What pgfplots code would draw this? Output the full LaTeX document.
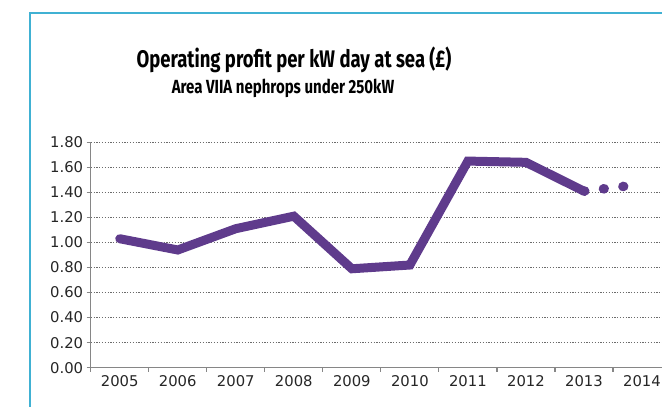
\documentclass[border=0pt]{standalone}
\usepackage{pgfplots}
\pgfplotsset{compat=1.18}
\usepackage{graphicx}
\usepackage{fontspec}
\setmainfont{DejaVu Sans}
\newfontfamily\titlefont{Fira Sans}
\definecolor{frameblue}{RGB}{64,177,211}
\definecolor{linepurple}{RGB}{95,59,140}
\definecolor{axisgray}{RGB}{134,134,134}
\begin{document}
\begin{tikzpicture}
\begin{axis}[
  at={(90.7pt,39.3pt)}, anchor=south west,
  scale only axis, width=580.3pt, height=225.4pt,
  xmin=-0.5, xmax=9.5, ymin=0, ymax=1.8,
  axis x line*=bottom, axis y line*=left,
  axis line style={-, axisgray, line width=1.2pt},
  xtick={-0.5,0.5,1.5,2.5,3.5,4.5,5.5,6.5,7.5,8.5,9.5},
  x tick label as interval,
  xticklabels={2005,2006,2007,2008,2009,2010,2011,2012,2013,2014},
  ytick={0,0.2,0.4,0.6,0.8,1,1.2,1.4,1.6,1.8},
  yticklabel style={/pgf/number format/fixed, /pgf/number format/fixed zerofill, /pgf/number format/precision=2},
  /pgf/number format/assume math mode=true,
  tick align=outside, major tick length=4pt,
  tick style={axisgray, line width=1.2pt},
  ymajorgrids,
  major grid style={axisgray!80!black, line width=1.2pt, dash pattern=on 1.2pt off 1.6pt},
  ticklabel style={font=\fontsize{14.8}{16}\selectfont, text=black!85},
  clip=false,
]
\addplot[linepurple, line width=9pt, line cap=round, line join=miter] coordinates {
(0,1.03) (1,0.94) (2,1.11) (3,1.21) (4,0.79) (5,0.82) (6,1.65) (7,1.64) (8,1.41)};
\addplot[linepurple, line width=9.5pt, line cap=round, dash pattern=on 0.8pt off 18.8pt] coordinates {
(8,1.41) (9,1.465)};
\end{axis}
\draw[frameblue, line width=2pt] (30pt,0pt) -- (30pt,394pt) -- (670pt,394pt);
\node[anchor=base, inner sep=0pt] at (294pt,339.3pt) {\titlefont\bfseries\fontsize{24}{28}\selectfont\scalebox{0.77}[1]{Operating profit per kW day at sea (£)}};
\node[anchor=base, inner sep=0pt] at (283pt,313pt) {\titlefont\bfseries\fontsize{19}{22}\selectfont\scalebox{0.79}[1]{Area VIIA nephrops under 250kW}};
\pgfresetboundingbox
\useasboundingbox (0pt,0pt) rectangle (662pt,407pt);
\end{tikzpicture}
\end{document}
